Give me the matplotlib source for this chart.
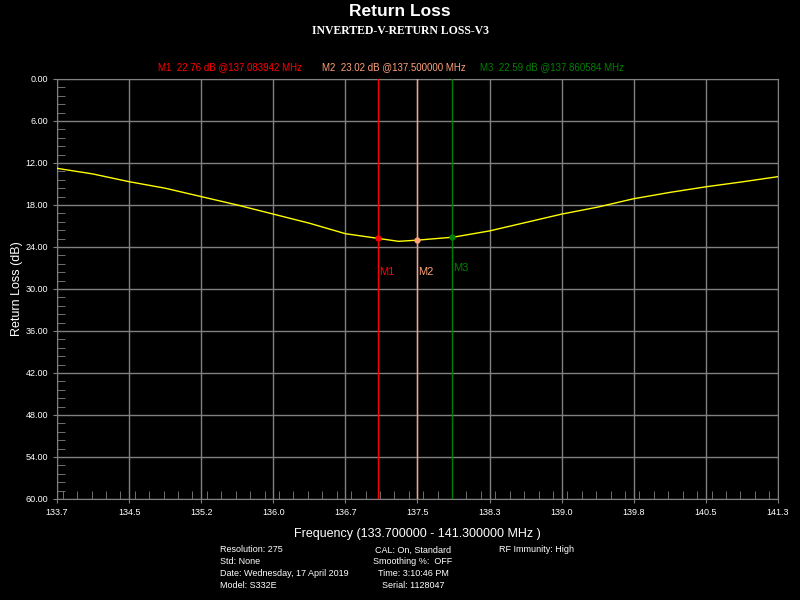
import numpy as np
import matplotlib
matplotlib.use("Agg")
import matplotlib.pyplot as plt
from matplotlib.ticker import MultipleLocator, FixedLocator

plt.rcParams['font.family'] = ['Liberation Sans', 'DejaVu Sans']

# trace (MHz, dB)
freq = [133.70, 134.08, 134.46, 134.84, 135.22, 135.60, 135.98, 136.36, 136.74,
        137.08, 137.30, 137.50, 137.88, 138.26, 138.64, 139.02, 139.40, 139.78,
        140.16, 140.54, 140.92, 141.30]
rl = [12.76, 13.57, 14.67, 15.60, 16.80, 18.00, 19.30, 20.60, 22.10,
      22.76, 23.19, 23.02, 22.59, 21.70, 20.50, 19.30, 18.30, 17.10,
      16.20, 15.40, 14.70, 13.95]

# markers
mk_names = ['M1', 'M2', 'M3']
mk_freq = [137.083942, 137.500000, 137.860584]
mk_val = [22.76, 23.02, 22.59]
mk_col = ['#ff0000', '#ffa07a', '#008000']

f_start, f_stop = 133.7, 141.3
x_ticks = np.linspace(f_start, f_stop, 11)
y_ticks = np.arange(0, 61, 6)

footer = [
    ('Resolution: 275', 'CAL: On, Standard', 'RF Immunity: High'),
    ('Std: None', 'Smoothing %:  OFF', ''),
    ('Date: Wednesday, 17 April 2019', 'Time: 3:10:46 PM', ''),
    ('Model: S332E', 'Serial: 1128047', ''),
]

grey = '#808080'
fig = plt.figure(figsize=(8, 6), dpi=100, facecolor='black')
ax = fig.add_axes([57/800, 1 - 499/600, 721/800, 420/600])
ax.set_facecolor('black')

ax.plot(freq, rl, color='#ffff00', lw=1, zorder=3)
for name, f, v, c in zip(mk_names, mk_freq, mk_val, mk_col):
    ax.axvline(f, color=c, lw=1, zorder=4)
    ax.plot(f, v, 'o', color=c, ms=3.5, zorder=5)
    ax.text(f + 0.01, 27.6 if name != 'M3' else 27.0, name, color=c, fontsize=8, va='center', ha='left')

ax.set_xlim(f_start, f_stop)
ax.set_ylim(60, 0)
ax.xaxis.set_major_locator(FixedLocator(x_ticks))
ax.set_xticklabels(['%.1f' % t for t in x_ticks])
ax.yaxis.set_major_locator(FixedLocator(y_ticks))
ax.set_yticklabels(['%.2f' % t for t in y_ticks])
ax.xaxis.set_minor_locator(MultipleLocator((f_stop - f_start) / 50))
ax.yaxis.set_minor_locator(MultipleLocator(1.2))
ax.grid(True, which='major', color=grey, lw=1)
ax.tick_params(which='major', colors=grey, length=3, labelcolor='white', labelsize=6.5)
ax.tick_params(which='minor', colors=grey, length=6, direction='in')
for s in ax.spines.values():
    s.set_color(grey)

ax.set_ylabel('Return Loss (dB)', color='white', fontsize=9)
ax.yaxis.set_label_coords(-0.047, 0.5)
ax.set_xlabel('Frequency (133.700000 - 141.300000 MHz )', color='white', fontsize=9, labelpad=8)

fig.text(0.5, 1 - 12/600, 'Return Loss', color='white', fontsize=12.5, fontweight='bold',
         ha='center', va='center')
fig.text(0.5, 1 - 31/600, 'INVERTED-V-RETURN LOSS-V3', color='white', fontsize=8.5,
         fontweight='bold', family='Liberation Serif', ha='center', va='center')

hdr_x = [158, 322, 480]
for name, f, v, c, x in zip(mk_names, mk_freq, mk_val, mk_col, hdr_x):
    fig.text(x/800, 1 - 67/600, '%s  %.2f dB @%.6f MHz' % (name, v, f), color=c,
             fontsize=7, ha='left', va='center')

for i, (a, b, c) in enumerate(footer):
    y = 1 - (550 + 12*i)/600
    fig.text(220/800, y, a, color='white', fontsize=6.5, ha='left', va='center')
    fig.text(413/800, y, b, color='white', fontsize=6.5, ha='center', va='center')
    if c:
        fig.text(499/800, y, c, color='white', fontsize=6.5, ha='left', va='center')

fig.savefig('out.png', dpi=100, facecolor='black')
